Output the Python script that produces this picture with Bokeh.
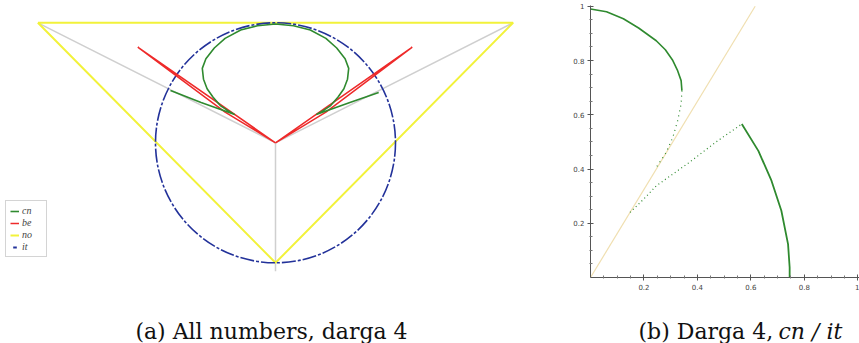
import numpy as np
from bokeh.plotting import figure
from bokeh.layouts import row, column
from bokeh.models import Range1d, Legend, LegendItem, FixedTicker
from bokeh.core.properties import value
from bokeh.embed import file_html
from bokeh.resources import INLINE

# ---------------- Panel (a): all numbers, darga 4 (unit circle coordinates) ----------------
no_x = [-1.98, 1.98, 0.0, -1.98]
no_y = [1.0, 1.0, -1.0, 1.0]
sector_xs = [[-1.98, 0.0, 1.98], [0.0, 0.0]]
sector_ys = [[1.0, 0.0, 1.0], [0.0, -1.07]]
it_cx = [0.0]
it_cy = [0.0]
it_r = [1.0]
be_xs = [[0.0, -1.148, -0.42, 0.0], [0.0, 1.14, 0.42, 0.0]]
be_ys = [[0.0, 0.797, 0.256, 0.0], [0.0, 0.797, 0.256, 0.0]]
cn_x = [-0.875, -0.62, -0.34, -0.40, -0.46, -0.52, -0.57, -0.60, -0.61, -0.58, -0.51, -0.42,
        -0.29, -0.15, 0.0, 0.15, 0.29, 0.42, 0.51, 0.58, 0.61, 0.60, 0.57, 0.52, 0.46, 0.40,
        0.34, 0.62, 0.86]
cn_y = [0.436, 0.335, 0.235, 0.27, 0.31, 0.38, 0.45, 0.53, 0.62, 0.70, 0.79, 0.87,
        0.94, 0.975, 0.99, 0.975, 0.94, 0.87, 0.79, 0.70, 0.62, 0.53, 0.45, 0.38, 0.31, 0.27,
        0.235, 0.335, 0.42]
legend_labels = ["cn", "be", "no", "it"]

# ---------------- Panel (b): darga 4, cn / it ----------------
arc1_x = [0.0, 0.06, 0.123, 0.18, 0.246, 0.28, 0.308, 0.325, 0.339, 0.342]
arc1_y = [0.99, 0.98, 0.954, 0.92, 0.873, 0.84, 0.80, 0.765, 0.726, 0.689]
dots1_x = [0.342, 0.339, 0.326, 0.308, 0.283, 0.246]
dots1_y = [0.689, 0.64, 0.578, 0.517, 0.461, 0.406]
dots2_x = [0.148, 0.20, 0.246, 0.369, 0.47, 0.566]
dots2_y = [0.24, 0.29, 0.338, 0.424, 0.50, 0.566]
arc2_x = [0.566, 0.628, 0.677, 0.714, 0.739, 0.745, 0.745]
arc2_y = [0.566, 0.467, 0.357, 0.246, 0.123, 0.037, 0.0]
ray_x = [0.0, 0.616]
ray_y = [0.0, 1.0]
tick_vals = [0.2, 0.4, 0.6, 0.8, 1.0]
minor_vals = [0.05, 0.1, 0.15, 0.25, 0.3, 0.35, 0.45, 0.5, 0.55, 0.65, 0.7, 0.75,
              0.85, 0.9, 0.95]

# ---------------- captions ----------------
caption_a = ["(a) All numbers, darga 4"]
caption_b = ["(b) Darga 4,"]
caption_b_math = ["cn / it"]

GREEN = "#2f8a2f"
RED = "#ee2a2a"
YELLOW = "#f2f23a"
BLUE = "#23329a"
GREY = "#cfcfcf"
WHEAT = "#f0dfb0"

H1 = 295           # height of the plotting row
TOP, BOT = 5, 18   # shared top/bottom borders so frames line up

# ---------- left figure ----------
LW = 570
SC = 120.0
CX, CY = 275.0, 142.3   # centre of unit circle in page pixels
left = figure(width=LW, height=H1, output_backend="svg", toolbar_location=None,
              x_range=Range1d(-CX / SC, (LW - CX) / SC),
              y_range=Range1d((CY - (H1 - BOT)) / SC, (CY - TOP) / SC),
              min_border_left=0, min_border_right=0,
              min_border_top=TOP, min_border_bottom=BOT, outline_line_color=None)
left.axis.visible = False
left.grid.visible = False

left.multi_line(sector_xs, sector_ys, line_color=GREY, line_width=1.5)
r_no = left.line(no_x, no_y, line_color=YELLOW, line_width=2)
left.circle(x=it_cx, y=it_cy, radius=it_r, fill_color=None,
            line_color=BLUE, line_width=1.6, line_dash="14 2 3 2")
r_be = left.multi_line(be_xs, be_ys, line_color=RED, line_width=1.5)
r_cn = left.line(cn_x, cn_y, line_color=GREEN, line_width=1.6)
r_it = left.scatter(x=it_cx, y=it_cy, marker="dash", angle=np.pi / 2, size=0,
                    line_color=BLUE, line_width=2)

legend = Legend(items=[LegendItem(label=legend_labels[0], renderers=[r_cn]),
                       LegendItem(label=legend_labels[1], renderers=[r_be]),
                       LegendItem(label=legend_labels[2], renderers=[r_no]),
                       LegendItem(label=legend_labels[3], renderers=[r_it])],
                location=(5, 20), padding=4, spacing=1, margin=0,
                label_height=10, glyph_height=10, glyph_width=9, label_standoff=3,
                label_text_font_size="10px", label_text_font="Liberation Serif",
                label_text_font_style="italic", border_line_color="#aaaaaa",
                border_line_width=1)
left.add_layout(legend)

# ---------- right figure ----------
RW = 859 - LW
ML = 17
XS = 270.3       # pixels per unit
right = figure(width=RW, height=H1, output_backend="svg", toolbar_location=None,
               x_range=Range1d(0, (RW - ML) / XS), y_range=Range1d(0, 1.003),
               min_border_left=ML, min_border_right=0,
               min_border_top=TOP, min_border_bottom=BOT,
               outline_line_color=None)
right.grid.visible = False
for ax in (right.xaxis[0], right.yaxis[0]):
    ax.ticker = FixedTicker(ticks=tick_vals, minor_ticks=minor_vals)
    ax.major_label_overrides = {1.0: "1", 1: "1"}
    ax.major_label_text_font_size = "7px"
    ax.major_label_text_font = "DejaVu Sans"
    ax.major_label_text_color = "#444444"
    ax.axis_line_color = "#555555"
    ax.major_tick_line_color = "#555555"
    ax.minor_tick_line_color = "#777777"
    ax.major_tick_in = 3
    ax.major_tick_out = 3
    ax.minor_tick_in = 2
    ax.minor_tick_out = 1
    ax.major_label_standoff = 3

right.line(ray_x, ray_y, line_color=WHEAT, line_width=1.2)
right.line(arc1_x, arc1_y, line_color=GREEN, line_width=1.6)
right.line(dots1_x, dots1_y, line_color=GREEN, line_width=1.2, line_dash="1 4")
right.line(dots2_x, dots2_y, line_color=GREEN, line_width=1.2, line_dash="1 3")
right.line(arc2_x, arc2_y, line_color=GREEN, line_width=1.8)

# ---------- caption strip ----------
CH = 343 - H1
cap = figure(width=859, height=CH, output_backend="svg", toolbar_location=None,
             x_range=Range1d(0, 859), y_range=Range1d(343, H1),
             min_border=0, outline_line_color=None)
cap.axis.visible = False
cap.grid.visible = False
cap.text(x=[271], y=[331], text=caption_a, text_align="center",
         text_baseline="alphabetic", text_font=value("DejaVu Serif"),
         text_font_size="22px", text_color="#111111")
cap.text(x=[638], y=[331], text=caption_b, text_align="left",
         text_baseline="alphabetic", text_font=value("DejaVu Serif"),
         text_font_size="22px", text_color="#111111")
cap.text(x=[778], y=[331], text=caption_b_math, text_align="left",
         text_baseline="alphabetic", text_font=value("DejaVu Serif"),
         text_font_style="italic", text_font_size="22px", text_color="#111111")

layout = column(row(left, right, spacing=0), cap, spacing=0)
open("out.html", "w").write(file_html(layout, INLINE))
